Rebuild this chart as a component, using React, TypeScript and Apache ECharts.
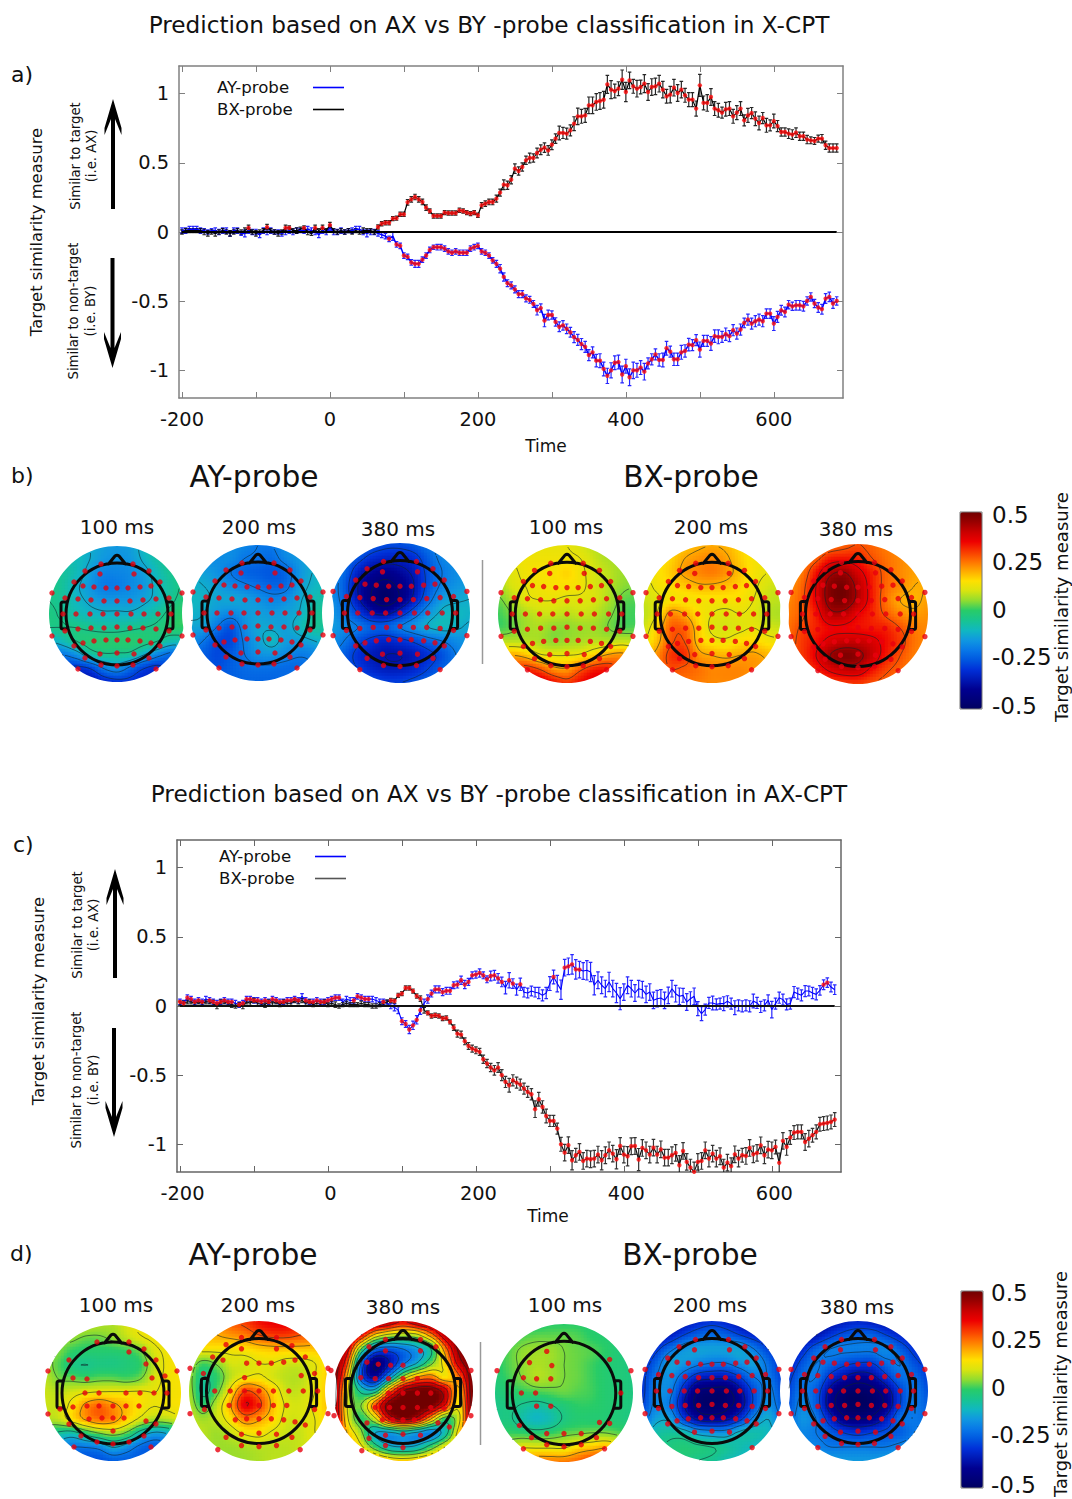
import React, { useEffect, useRef } from "react";
import * as echarts from "echarts";

const FONT = "DejaVu Sans";
const TIME_START = -200;
const TIME_STEP = 5;

// Panel a) means, one row per 50 ms from -200 ms
const aAy = [
  .01,.01,.02,.02,.02,.01,.01,.00,.01,.01,
  .00,.01,.01,-.01,.01,.01,-.01,-.01,.01,.00,
  .00,-.02,.01,.00,.01,.00,.00,-.01,.00,.01,
  .00,.01,.01,.01,.02,.01,.00,-.02,.01,.00,
  .03,.00,.00,.01,.00,.01,.01,.02,.02,.00,
  -.01,.00,.00,-.01,-.02,-.03,-.05,-.03,-.09,-.10,
  -.17,-.18,-.22,-.23,-.23,-.20,-.17,-.13,-.11,-.11,
  -.11,-.12,-.14,-.15,-.14,-.15,-.15,-.15,-.12,-.11,
  -.10,-.14,-.15,-.17,-.205,-.23,-.265,-.325,-.37,-.386,
  -.415,-.449,-.449,-.48,-.49,-.52,-.565,-.55,-.64,-.60,
  -.60,-.65,-.685,-.675,-.70,-.725,-.76,-.78,-.81,-.83,
  -.89,-.87,-.93,-.93,-.99,-1.04,-1.0,-.945,-.94,-1.03,
  -.97,-1.05,-1.0,-1.0,-.98,-1.01,-.95,-.92,-.885,-.925,
  -.925,-.84,-.865,-.92,-.92,-.87,-.86,-.814,-.818,-.782,
  -.85,-.787,-.787,-.806,-.753,-.758,-.758,-.739,-.753,-.71,
  -.734,-.705,-.657,-.633,-.662,-.645,-.633,-.645,-.59,-.59,
  -.662,-.614,-.566,-.578,-.525,-.537,-.53,-.53,-.537,-.498,
  -.469,-.517,-.546,-.558,-.481,-.469,-.517,-.498,
];
const aAyErr = [
  .02,.02,.02,.02,.02,.02,.015,.015,.015,.02,
  .02,.02,.02,.02,.02,.02,.015,.025,.02,.02,
  .02,.02,.02,.02,.02,.015,.015,.02,.02,.02,
  .02,.02,.015,.02,.02,.02,.02,.02,.02,.02,
  .02,.02,.02,.02,.015,.015,.02,.02,.02,.02,
  .025,.02,.02,.02,.02,.02,.02,.03,.02,.02,
  .02,.02,.02,.025,.025,.02,.02,.02,.015,.02,
  .02,.02,.02,.02,.02,.02,.02,.02,.02,.02,
  .02,.02,.02,.02,.02,.025,.03,.03,.025,.025,
  .025,.025,.025,.025,.025,.025,.035,.03,.045,.035,
  .03,.03,.035,.035,.035,.035,.04,.04,.04,.04,
  .04,.04,.045,.05,.05,.055,.055,.05,.05,.06,
  .05,.06,.06,.05,.05,.06,.04,.04,.04,.045,
  .05,.05,.04,.045,.045,.05,.045,.045,.04,.04,
  .055,.04,.04,.05,.045,.05,.04,.045,.04,.04,
  .04,.04,.035,.04,.04,.04,.04,.04,.035,.035,
  .05,.04,.035,.035,.03,.03,.035,.035,.035,.03,
  .03,.03,.035,.035,.035,.035,.035,.03,
];
const aBx = [
  .00,.01,.01,.01,.01,.01,.00,-.01,.00,-.01,
  .00,.01,.00,-.01,.00,.01,.00,.01,.03,.00,
  -.01,.00,.01,.035,.01,.00,-.01,.00,.03,.03,
  .01,.01,.02,.03,.00,-.01,.03,.01,.03,.01,
  .05,.01,.00,.01,.00,.01,.00,.01,.00,.01,
  .01,.01,.00,.036,.06,.067,.067,.097,.10,.128,
  .128,.215,.236,.253,.236,.217,.176,.152,.116,.116,
  .116,.14,.137,.137,.137,.157,.152,.14,.133,.14,
  .121,.193,.205,.217,.217,.241,.285,.342,.338,.378,
  .458,.441,.47,.518,.535,.535,.571,.595,.61,.59,
  .631,.675,.716,.716,.711,.735,.783,.836,.836,.843,
  .916,.916,.94,.947,.956,1.067,1.029,1.019,1.036,1.101,
  1.012,1.096,1.053,1.036,1.048,1.072,1.012,1.048,1.053,1.072,
  1.029,.981,.993,1.043,1.005,1.029,.988,.957,.957,.892,
  1.06,.933,.933,.976,.892,.88,.863,.887,.892,.836,
  .863,.892,.807,.843,.86,.819,.788,.824,.771,.771,
  .802,.766,.723,.723,.711,.704,.718,.692,.692,.668,
  .663,.658,.675,.675,.627,.607,.607,.607,
];
const aBxErr = [
  .015,.015,.015,.015,.015,.015,.02,.02,.015,.02,
  .015,.015,.015,.02,.015,.015,.015,.02,.02,.015,
  .02,.015,.015,.02,.015,.015,.02,.015,.02,.015,
  .015,.02,.015,.015,.02,.015,.02,.015,.02,.015,
  .02,.015,.015,.015,.015,.015,.015,.015,.015,.02,
  .015,.015,.015,.015,.015,.015,.015,.015,.015,.015,
  .015,.02,.02,.02,.02,.02,.02,.015,.015,.015,
  .015,.015,.015,.015,.015,.015,.015,.015,.015,.015,
  .015,.02,.02,.02,.02,.025,.025,.035,.03,.03,
  .035,.03,.03,.03,.035,.03,.035,.035,.035,.035,
  .035,.035,.05,.04,.04,.04,.05,.06,.05,.05,
  .06,.06,.06,.06,.06,.065,.065,.05,.05,.07,
  .07,.06,.05,.06,.05,.065,.06,.06,.06,.06,
  .06,.05,.06,.06,.06,.06,.05,.05,.05,.055,
  .08,.05,.06,.06,.05,.05,.04,.05,.05,.05,
  .05,.05,.04,.05,.04,.05,.05,.04,.05,.04,
  .05,.04,.03,.03,.035,.035,.035,.03,.03,.03,
  .025,.025,.025,.03,.03,.03,.03,.03,
];

// Panel c) means
const cAy = [
  .03,.02,.06,.05,.03,.04,.03,.05,.04,.03,
  .02,.03,.04,.03,.03,.02,.01,.02,.05,.05,
  .04,.04,.03,.04,.03,.05,.04,.03,.03,.04,
  .04,.05,.04,.07,.04,.03,.03,.04,.03,.03,
  .04,.05,.06,.06,.03,.05,.04,.04,.07,.06,
  .05,.05,.05,.04,.03,.03,.02,.00,-.01,-.03,
  -.11,-.13,-.17,-.14,-.10,-.03,.02,.05,.09,.12,
  .12,.10,.11,.11,.15,.155,.186,.155,.174,.222,
  .227,.239,.222,.193,.217,.222,.2,.174,.133,.186,
  .162,.118,.157,.10,.094,.108,.10,.094,.077,.094,
  .162,.21,.162,.118,.277,.287,.301,.265,.263,.253,
  .258,.246,.15,.186,.15,.126,.174,.126,.094,.053,
  .10,.15,.125,.094,.125,.118,.084,.101,.041,.053,
  .058,.041,.077,.125,.089,.07,.077,.029,.053,.07,
  -.019,-.055,-.026,.022,.022,.012,.017,.017,.034,.017,
  -.012,.005,-.002,.005,-.002,.036,.022,-.007,.005,.041,
  -.026,.017,.06,.046,.012,.017,.101,.089,.077,.108,
  .108,.094,.084,.113,.154,.169,.137,.118,
];
const cAyErr = [
  .02,.02,.02,.02,.02,.02,.02,.02,.02,.02,
  .02,.02,.02,.02,.02,.02,.02,.02,.02,.02,
  .02,.02,.02,.02,.02,.02,.02,.02,.02,.02,
  .02,.02,.02,.02,.02,.02,.02,.02,.02,.02,
  .02,.02,.02,.02,.02,.02,.02,.02,.02,.02,
  .02,.02,.02,.02,.02,.02,.02,.02,.025,.025,
  .025,.025,.03,.03,.03,.03,.03,.03,.025,.025,
  .025,.025,.025,.025,.025,.025,.03,.03,.025,.025,
  .025,.03,.025,.025,.035,.035,.035,.035,.045,.055,
  .035,.04,.045,.035,.035,.035,.035,.04,.04,.04,
  .05,.05,.06,.07,.06,.06,.07,.07,.06,.06,
  .07,.07,.07,.06,.06,.06,.07,.06,.07,.08,
  .06,.06,.06,.06,.06,.06,.06,.06,.06,.06,
  .06,.06,.06,.06,.06,.06,.05,.06,.05,.06,
  .05,.05,.04,.04,.05,.04,.04,.05,.04,.04,
  .05,.04,.04,.04,.04,.05,.04,.04,.04,.04,
  .06,.04,.04,.04,.04,.04,.04,.04,.04,.04,
  .035,.04,.04,.035,.035,.035,.035,.035,
];
const cBx = [
  .02,.02,.03,.03,.02,.03,.02,.03,.03,.02,
  .00,.03,.03,.02,.01,.00,.01,.00,.03,.02,
  .04,.02,.02,.01,.03,.02,.03,.01,.03,.02,
  .02,.04,.03,.04,.02,.03,.01,.02,.02,.03,
  .01,.02,.01,.00,.01,.02,.01,.01,.01,.02,
  .01,.01,.00,.00,.01,.02,.03,.04,.036,.077,
  .09,.13,.13,.108,.072,.053,-.031,-.05,-.072,-.067,
  -.072,-.09,-.087,-.115,-.156,-.2,-.207,-.255,-.289,-.308,
  -.32,-.332,-.385,-.416,-.445,-.465,-.445,-.50,-.549,-.573,
  -.537,-.554,-.568,-.597,-.621,-.638,-.746,-.674,-.73,-.795,
  -.831,-.831,-.886,-1.0,-1.06,-1.006,-1.115,-1.079,-1.055,-1.12,
  -1.103,-1.108,-1.103,-1.074,-1.115,-1.079,-1.043,-1.067,-1.108,-1.012,
  -1.074,-1.086,-1.014,-1.012,-1.11,-1.026,-1.043,-1.074,-1.024,-1.074,
  -1.036,-1.096,-1.096,-1.079,-1.062,-1.151,-1.048,-1.127,-1.168,-1.199,
  -1.127,-1.12,-1.043,-1.103,-1.067,-1.103,-1.086,-1.168,-1.132,-1.158,
  -1.072,-1.103,-1.079,-1.084,-1.026,-1.072,-1.062,-1.007,-1.079,-1.038,
  -1.043,-1.019,-1.134,-.975,-1.019,-.951,-.915,-.91,-.91,-.983,
  -.959,-.934,-.91,-.855,-.85,-.845,-.838,-.821,
];
const cBxErr = [
  .015,.015,.015,.015,.015,.015,.015,.015,.015,.02,
  .02,.015,.015,.015,.02,.015,.015,.02,.015,.015,
  .015,.015,.015,.02,.015,.015,.015,.015,.015,.015,
  .015,.015,.015,.015,.015,.015,.015,.015,.015,.015,
  .015,.015,.02,.015,.015,.015,.015,.015,.015,.015,
  .015,.015,.015,.015,.015,.015,.015,.015,.015,.015,
  .015,.015,.015,.015,.015,.02,.02,.015,.015,.015,
  .015,.015,.015,.015,.02,.025,.025,.025,.025,.025,
  .025,.025,.03,.03,.03,.035,.035,.04,.04,.05,
  .04,.04,.04,.04,.04,.04,.06,.05,.045,.05,
  .04,.04,.04,.05,.06,.06,.07,.05,.06,.06,
  .06,.06,.06,.06,.07,.06,.06,.06,.07,.06,
  .06,.07,.06,.06,.08,.06,.06,.06,.06,.06,
  .06,.06,.06,.06,.06,.07,.06,.06,.06,.07,
  .06,.06,.06,.06,.06,.06,.06,.06,.06,.06,
  .06,.06,.05,.06,.06,.06,.06,.06,.06,.06,
  .06,.05,.07,.06,.06,.05,.05,.05,.05,.06,
  .06,.05,.05,.05,.05,.05,.05,.05,
];

// Time ranges in which a sample carries the red significance dot
const aAySig = [[80, 80], [90, 685]];
const aBxSig = [[-110, -110], [-85, -85], [-60, -55], [-35, -35], [-20, -20], [-10, -10], [0, 0], [65, 685]];
const cAySig = [[-200, -170], [-160, -130], [-120, -90], [-85, -40], [-30, 5], [10, 15], [35, 55], [75, 75], [100, 125], [135, 235], [245, 250], [260, 260], [305, 305], [320, 340], [670, 675]];
const cBxSig = [[85, 125], [135, 685]];

const xTicks = [-200, -100, 0, 100, 200, 300, 400, 500, 600];
const xLabels = [-200, 0, 200, 400, 600];
const yTicks = [-1, -0.5, 0, 0.5, 1];

// Topographic maps, hundredths of the similarity measure, 11 x 11 samples
const mapB1 = [
  [-10,-10,-10,-12,-14,-15,-14,-10,-6,-5,-5],[-8,-8,-9,-12,-15,-16,-15,-11,-7,-4,-4],[-5,-6,-9,-14,-18,-18,-17,-14,-9,-5,-3],
  [-4,-6,-11,-15,-19,-19,-17,-15,-10,-6,-3],[-4,-6,-10,-13,-15,-15,-15,-13,-10,-5,-2],[-3,-5,-8,-10,-11,-11,-11,-9,-6,-2,0],
  [-4,-4,-4,-5,-6,-6,-5,-4,-3,-1,0],[-12,-9,-4,-2,-1,-1,-1,-2,-4,-8,-8],[-20,-20,-16,-8,-5,-5,-6,-12,-18,-22,-20],
  [-25,-28,-30,-28,-20,-16,-22,-28,-30,-25,-20],[-28,-30,-34,-36,-32,-30,-30,-32,-30,-25,-22],
];
const mapB2 = [
  [-20,-20,-18,-17,-18,-20,-20,-17,-15,-13,-12],[-18,-18,-17,-17,-20,-21,-22,-18,-15,-13,-12],[-13,-14,-16,-20,-23,-24,-25,-23,-16,-12,-10],
  [-11,-12,-14,-17,-19,-21,-23,-22,-15,-11,-9],[-10,-11,-13,-13,-14,-16,-18,-17,-13,-9,-7],[-11,-12,-15,-17,-15,-14,-15,-14,-12,-7,-5],
  [-13,-14,-20,-25,-17,-13,-13,-14,-10,-6,-6],[-16,-20,-26,-27,-19,-14,-10,-14,-14,-12,-10],[-20,-24,-27,-25,-20,-16,-15,-17,-19,-18,-14],
  [-22,-24,-26,-24,-22,-21,-21,-22,-22,-20,-16],[-24,-24,-24,-24,-23,-23,-23,-22,-20,-18,-15],
];
const mapB3 = [
  [-18,-20,-22,-24,-26,-26,-24,-20,-17,-15,-14],[-17,-20,-25,-30,-32,-32,-30,-24,-18,-16,-15],[-16,-22,-32,-38,-40,-38,-34,-26,-20,-17,-15],
  [-16,-24,-36,-43,-46,-42,-36,-26,-19,-16,-14],[-16,-23,-35,-44,-48,-43,-34,-23,-15,-13,-12],[-15,-20,-28,-36,-38,-32,-24,-16,-11,-10,-11],
  [-14,-17,-20,-24,-24,-20,-16,-12,-10,-11,-13],[-16,-20,-26,-30,-32,-30,-27,-23,-20,-17,-15],[-18,-24,-30,-34,-36,-36,-34,-30,-26,-20,-16],
  [-20,-24,-28,-32,-34,-34,-32,-28,-24,-20,-17],[-20,-22,-24,-26,-28,-28,-26,-23,-20,-18,-16],
];
const mapB4 = [
  [11,12,12,12,12,12,10,8,6,5,5],[11,12,13,13,13,13,12,9,7,6,5],[9,11,13,14,14,16,13,10,8,6,5],
  [6,10,12,13,14,14,13,10,8,5,4],[3,7,11,12,12,11,11,10,7,3,2],[1,4,7,9,9,8,9,8,5,2,1],
  [1,3,6,7,5,5,6,6,4,2,2],[8,8,8,7,5,6,7,8,8,9,8],[17,20,18,13,12,12,13,17,21,22,18],
  [22,28,31,28,22,21,27,32,32,26,20],[24,30,36,38,34,30,34,37,34,28,22],
];
const mapB5 = [
  [14,15,16,17,19,20,19,16,14,13,13],[13,14,16,20,22,23,21,17,14,13,12],[12,14,17,21,23,24,22,18,14,12,11],
  [10,13,15,17,19,19,18,16,13,10,9],[9,11,14,14,14,14,14,14,12,9,8],[8,12,22,20,15,12,11,12,11,8,7],
  [9,16,26,26,17,11,10,11,12,10,9],[12,18,27,28,18,14,13,15,16,14,13],[16,22,30,31,22,20,19,20,21,19,17],
  [20,24,28,27,25,23,23,23,22,21,20],[22,24,25,25,24,23,23,23,22,21,20],
];
const mapB6 = [
  [18,20,22,24,26,28,26,24,22,21,20],[20,22,26,32,33,32,28,25,23,21,20],[21,24,33,42,44,38,32,26,23,21,20],
  [22,26,36,47,49,42,33,26,23,20,20],[23,27,36,47,49,42,33,25,20,19,21],[24,27,33,42,42,36,32,27,23,21,22],
  [25,29,32,35,35,34,33,32,28,24,23],[26,30,34,38,40,40,38,34,30,25,23],[26,30,36,44,48,46,40,33,28,24,22],
  [25,28,32,37,40,40,34,29,26,23,21],[23,25,27,29,30,30,28,26,24,22,20],
];
const mapD1 = [
  [6,7,8,8,7,7,10,13,14,14,14],[5,6,5,3,3,5,8,11,13,14,14],[5,4,0,-1,-1,-1,0,3,10,13,14],
  [6,2,-3,-4,-3,-3,-2,0,8,13,14],[8,4,3,2,3,3,2,4,10,13,14],[9,8,10,12,13,13,13,13,12,13,14],
  [9,9,14,22,26,22,18,14,12,13,14],[7,8,14,20,24,22,16,10,6,7,10],[-2,-6,-8,-2,3,6,2,-8,-14,-12,-3],
  [-6,-16,-20,-20,-18,-12,-16,-22,-24,-20,-8],[-8,-18,-24,-26,-26,-24,-24,-24,-20,-12,-4],
];
const mapD2 = [
  [18,20,22,27,30,34,36,36,34,30,28],[16,18,20,22,24,28,30,30,28,26,24],[14,14,14,14,15,17,18,18,18,18,20],
  [8,2,5,10,10,12,12,10,10,12,17],[6,-4,0,8,12,13,10,8,8,12,17],[7,-6,2,14,28,24,16,9,9,12,18],
  [8,0,8,20,36,30,18,11,10,13,18],[9,6,9,15,24,21,16,10,10,12,17],[10,8,6,9,13,14,11,9,9,12,14],
  [9,7,6,6,7,8,8,8,9,11,12],[8,7,6,6,6,7,8,8,9,10,11],
];
const mapD3 = [
  [48,48,48,48,44,36,44,48,48,48,48],[50,48,36,18,10,8,10,24,42,50,50],[50,40,4,-20,-24,-20,-14,-4,24,46,50],
  [50,30,-20,-44,-36,-22,-12,2,16,40,50],[50,20,-24,-38,-18,6,20,24,14,26,50],[50,14,-6,-8,22,44,50,50,40,18,50],
  [50,12,4,26,48,52,52,50,36,14,48],[50,14,0,10,36,46,40,20,0,10,46],[46,20,6,-12,-14,-10,-14,-18,-8,16,40],
  [44,26,14,0,-10,-12,-10,0,12,22,36],[42,36,30,24,18,16,18,22,26,32,38],
];
const mapD4 = [
  [-2,-2,-1,-1,0,0,0,-1,-2,-3,-3],[-1,0,2,3,3,3,2,0,-1,-2,-3],[-1,2,5,6,6,4,3,2,0,-2,-3],
  [-1,2,5,7,6,4,3,1,-1,-2,-3],[-2,1,4,7,6,4,3,1,-1,-2,-3],[-3,-1,0,1,2,3,2,1,-1,-2,-3],
  [-4,-3,-5,-7,-5,-2,0,0,-1,-2,-3],[-4,-3,-7,-10,-8,-3,-1,-1,-1,-2,-3],[-1,1,1,0,1,3,4,5,5,3,0],
  [8,9,12,12,12,12,16,18,20,16,10],[12,16,20,24,24,24,26,30,26,20,12],
];
const mapD5 = [
  [-42,-42,-40,-36,-32,-30,-32,-36,-38,-38,-36],[-40,-38,-34,-28,-24,-22,-24,-28,-32,-34,-34],[-36,-30,-22,-16,-14,-14,-14,-14,-20,-28,-32],
  [-32,-24,-14,-15,-18,-20,-20,-16,-14,-22,-30],[-30,-20,-16,-24,-32,-34,-34,-28,-20,-20,-28],[-30,-18,-18,-32,-44,-46,-46,-38,-26,-18,-26],
  [-28,-18,-20,-36,-46,-48,-46,-40,-26,-16,-24],[-24,-14,-14,-28,-38,-40,-38,-30,-18,-12,-20],[-16,-8,-6,-8,-14,-16,-16,-10,-8,-10,-16],
  [-12,-6,-3,-2,-3,-4,-6,-8,-10,-12,-14],[-10,-6,-4,-3,-4,-5,-8,-10,-12,-13,-14],
];
const mapD6 = [
  [-44,-44,-42,-38,-34,-32,-34,-36,-38,-38,-36],[-42,-40,-36,-30,-26,-24,-24,-28,-32,-34,-34],[-38,-32,-24,-20,-19,-19,-19,-18,-24,-30,-32],
  [-34,-26,-20,-22,-26,-28,-28,-22,-20,-26,-30],[-30,-22,-20,-30,-36,-40,-38,-30,-22,-22,-28],[-28,-20,-24,-38,-46,-48,-46,-40,-28,-20,-26],
  [-26,-18,-24,-40,-48,-50,-48,-42,-28,-20,-24],[-24,-16,-20,-32,-42,-44,-42,-34,-22,-20,-22],[-22,-18,-20,-24,-28,-30,-28,-26,-24,-20,-18],
  [-18,-18,-18,-20,-20,-20,-20,-20,-18,-16,-14],[-14,-14,-15,-15,-15,-15,-15,-14,-13,-12,-12],
];

// Electrode sites shown on each map, offsets from the head centre
const sitesAll = [
  [-65,-21],[65,-21],[-65,22],[65,22],[-39,55],[39,55],[-16,-50],[16,-50],[-32,-43],[32,-43],[-17,-40],[17,-40],[-43,-32],[43,-32],
  [-34,-28],[34,-28],[-23,-27],[23,-27],[-11,-26],[11,-26],[0,-26],[-52,-16],[52,-16],[-39,-15],[39,-15],[-26,-14],[26,-14],[-13,-13],[13,-13],[0,-13],
  [-54,0],[54,0],[-41,0],[41,0],[-27,0],[27,0],[-14,0],[14,0],[0,0],[-39,15],[39,15],[-26,14],[26,14],[-13,14],[13,14],[0,13],
  [-52,17],[52,17],[-34,29],[34,29],[-23,27],[23,27],[-11,26],[11,26],[0,26],[-43,32],[43,32],[-17,40],[17,40],[0,39],[-32,44],[32,44],
  [-16,51],[16,51],[0,52],
];
const sitesD1 = [[-16,-51],[16,-51],[16,-41],[31,-44],[-44,-33],[43,-33],[33,-29],[-65,-22],[64,-22],[52,-17],[39,-15],[-40,-15],[-26,-14],[-28,0],[-14,0],[13,0],[27,0],[41,0],[54,0],[-40,14],[-26,13],[-14,13],[0,13],[13,13],[26,13],[-65,21],[-53,16],[-24,26],[-11,25],[0,25],[11,25],[-44,31],[43,31],[33,28],[0,38],[-32,43],[31,43],[-16,49],[0,51],[16,49],[-39,54],[38,54]];
const sitesD2 = [[-17,-52],[17,-52],[-32,-45],[32,-44],[-17,-41],[17,-41],[-45,-33],[45,-33],[-35,-30],[-12,-27],[0,-27],[12,-27],[24,-28],[35,-30],[-67,-22],[67,-22],[-54,-17],[41,-15],[-14,-13],[54,-17],[-28,0],[-43,0],[-14,0],[0,0],[14,0],[29,0],[43,0],[57,0],[-29,14],[-14,14],[0,14],[14,14],[27,14],[-53,18],[54,18],[-67,22],[67,22],[-23,28],[-12,27],[0,27],[12,27],[24,28],[35,30],[45,33],[-17,42],[0,41],[17,42],[-32,45],[32,45],[0,54],[-17,53],[17,53],[-40,57],[40,57]];
const sitesD3 = [[-17,-50],[17,-50],[-33,-43],[-17,-39],[17,-39],[32,-43],[-35,-28],[-24,-26],[-12,-25],[0,-25],[-70,-20],[66,-20],[-41,-13],[-27,-12],[-14,-12],[0,-12],[14,-12],[-14,2],[0,2],[14,2],[27,2],[-13,16],[0,16],[14,16],[27,16],[-27,16],[40,17],[-20,28],[-10,28],[0,28],[11,28],[-35,31],[34,31],[45,35],[-17,43],[0,42],[17,43],[-33,46],[-17,53],[0,55],[-40,58],[66,24],[-67,24]];
const sitesD4 = [[-17,-41],[-34,-30],[-12,-27],[45,-33],[-66,-22],[66,-22],[-40,-15],[-27,-14],[-13,-14],[-42,0],[-28,0],[56,0],[-27,13],[-13,13],[-44,32],[45,30],[35,29],[-32,44],[-17,40],[0,40],[17,40],[32,44],[-17,51],[0,53],[17,51],[-40,55],[40,55]];
const sitesD5 = sitesAll.filter((s) => !(s[1] >= 50 && s[0] <= 16) && !(s[1] === 44));

const mapTable = [
  { name: "b1", grid: mapB1, sites: sitesAll, cx: 117, cy: 614, r: 68, label: "100 ms", lx: 117, ly: 527 },
  { name: "b2", grid: mapB2, sites: sitesAll, cx: 258, cy: 613, r: 68, label: "200 ms", lx: 259, ly: 527 },
  { name: "b3", grid: mapB3, sites: sitesAll, cx: 400, cy: 613, r: 70, label: "380 ms", lx: 398, ly: 529 },
  { name: "b4", grid: mapB4, sites: sitesAll, cx: 567, cy: 614, r: 69, label: "100 ms", lx: 566, ly: 527 },
  { name: "b5", grid: mapB5, sites: sitesAll, cx: 712, cy: 614, r: 69, label: "200 ms", lx: 711, ly: 527 },
  { name: "b6", grid: mapB6, sites: sitesAll, cx: 858, cy: 614, r: 70, label: "380 ms", lx: 856, ly: 529 },
  { name: "d1", grid: mapD1, sites: sitesD1, cx: 113, cy: 1393, r: 68, label: "100 ms", lx: 116, ly: 1305 },
  { name: "d2", grid: mapD2, sites: sitesD2, cx: 259, cy: 1391, r: 70, label: "200 ms", lx: 258, ly: 1305 },
  { name: "d3", grid: mapD3, sites: sitesD3, cx: 403, cy: 1391, r: 70, label: "380 ms", lx: 403, ly: 1307 },
  { name: "d4", grid: mapD4, sites: sitesD4, cx: 564, cy: 1393, r: 69, label: "100 ms", lx: 565, ly: 1305 },
  { name: "d5", grid: mapD5, sites: sitesD5, cx: 712, cy: 1391, r: 70, label: "200 ms", lx: 710, ly: 1305 },
  { name: "d6", grid: mapD6, sites: sitesAll, cx: 858, cy: 1391, r: 70, label: "380 ms", lx: 857, ly: 1307 },
];

const jet = ["#000060","#00007a","#000090","#0018b4","#0030d8","#0058e0","#0878e8","#1098e0","#10b8c0","#18c490","#28cc68","#90dc30","#d8e410","#ffe000","#ffaa00","#ff7000","#f83800","#ee0000","#c80000","#980000","#700000"];
const contourLevels = [-0.44, -0.36, -0.28, -0.2, -0.12, -0.04, 0.04, 0.12, 0.2, 0.28, 0.36, 0.44];
const colorbarTicks = ["0.5", "0.25", "0", "-0.25", "-0.5"];

const CELL = 3;

function catmull(p0: number, p1: number, p2: number, p3: number, t: number) {
  return 0.5 * (2 * p1 + (p2 - p0) * t + (2 * p0 - 5 * p1 + 4 * p2 - p3) * t * t + (3 * p1 - p0 - 3 * p2 + p3) * t * t * t);
}
function sample(m: number[][], u: number, v: number) {
  const N = m.length - 1;
  const cl = (i: number) => Math.max(0, Math.min(N, i));
  const iu = Math.max(0, Math.min(N - 1, Math.floor(u)));
  const iv = Math.max(0, Math.min(N - 1, Math.floor(v)));
  const tu = u - iu, tv = v - iv;
  const col: number[] = [];
  for (let j = -1; j <= 2; j++) {
    const row = m[cl(iv + j)];
    col.push(catmull(row[cl(iu - 1)], row[cl(iu)], row[cl(iu + 1)], row[cl(iu + 2)], tu));
  }
  const val = catmull(col[0], col[1], col[2], col[3], tv) / 100;
  return Math.max(-0.5, Math.min(0.5, val));
}

function contourPath(f: number[][], x0: number, y0: number, inside: (x: number, y: number) => boolean) {
  let d = "";
  const n = f.length;
  for (const lv of contourLevels) {
    for (let j = 0; j < n - 1; j++) {
      for (let i = 0; i < n - 1; i++) {
        const px = x0 + i * CELL, py = y0 + j * CELL;
        if (!inside(px + CELL / 2, py + CELL / 2)) continue;
        const a = f[j][i], b = f[j][i + 1], c = f[j + 1][i + 1], e = f[j + 1][i];
        const pts: number[][] = [];
        if ((a < lv) !== (b < lv)) pts.push([px + (CELL * (lv - a)) / (b - a), py]);
        if ((b < lv) !== (c < lv)) pts.push([px + CELL, py + (CELL * (lv - b)) / (c - b)]);
        if ((e < lv) !== (c < lv)) pts.push([px + (CELL * (lv - e)) / (c - e), py + CELL]);
        if ((a < lv) !== (e < lv)) pts.push([px, py + (CELL * (lv - a)) / (e - a)]);
        if (pts.length >= 2) {
          d += `M${pts[0][0].toFixed(1)} ${pts[0][1].toFixed(1)}L${pts[1][0].toFixed(1)} ${pts[1][1].toFixed(1)}`;
          if (pts.length === 4) d += `M${pts[2][0].toFixed(1)} ${pts[2][1].toFixed(1)}L${pts[3][0].toFixed(1)} ${pts[3][1].toFixed(1)}`;
        }
      }
    }
  }
  return d;
}

function headPath(cx: number, cy: number, r: number) {
  const s = r / 68;
  const R = 51 * s;
  const p = (x: number, y: number) => `${(cx + x * s).toFixed(1)} ${(cy + y * s).toFixed(1)}`;
  return (
    `M${cx - R} ${cy}A${R} ${R} 0 1 1 ${cx + R} ${cy}A${R} ${R} 0 1 1 ${cx - R} ${cy}` +
    `M${p(-8.5, -50)}L${p(-2, -58)}Q${p(0, -59.5)} ${p(2, -58)}L${p(8.5, -50)}` +
    `M${p(-51, -12)}L${p(-54, -12)}Q${p(-56, -12)} ${p(-56, -10)}L${p(-56, 13)}Q${p(-56, 15)} ${p(-54, 15)}L${p(-51, 15)}` +
    `M${p(51, -12)}L${p(54, -12)}Q${p(56, -12)} ${p(56, -10)}L${p(56, 13)}Q${p(56, 15)} ${p(54, 15)}L${p(51, 15)}`
  );
}

const times = aAy.map((_, i) => TIME_START + i * TIME_STEP);
const inSig = (t: number, ranges: number[][]) => ranges.some(([a, b]) => t >= a && t <= b);

function errorRender(color: string, w: number) {
  return (_p: any, api: any) => {
    const t = api.value(0), m = api.value(1), e = api.value(2);
    const a = api.coord([t, m + e]), b = api.coord([t, m - e]);
    const c = 1.8;
    return {
      type: "path",
      shape: { pathData: `M${a[0]} ${a[1]}L${b[0]} ${b[1]}M${a[0] - c} ${a[1]}L${a[0] + c} ${a[1]}M${b[0] - c} ${b[1]}L${b[0] + c} ${b[1]}` },
      style: { fill: "none", stroke: color, lineWidth: w, opacity: 0.85 },
    };
  };
}

function panelSeries(axis: number, name: string, color: string, vals: number[], errs: number[], lineW: number) {
  return [
    {
      type: "custom", name: name + " error", xAxisIndex: axis, yAxisIndex: axis, z: 2, clip: true, silent: true,
      encode: { x: 0, y: 1 },
      data: vals.map((v, i) => [times[i], v, errs[i]]),
      renderItem: errorRender(color, 1.2),
    },
    {
      type: "line", name, xAxisIndex: axis, yAxisIndex: axis, z: 3, showSymbol: false, silent: true,
      lineStyle: { color, width: lineW }, itemStyle: { color },
      data: vals.map((v, i) => [times[i], v]),
    },
  ];
}
function sigSeries(axis: number, vals: number[], sig: number[][]) {
  return {
    type: "scatter", xAxisIndex: axis, yAxisIndex: axis, z: 6, silent: true, symbolSize: 4.4,
    itemStyle: { color: "#ff0a0a" },
    data: vals.map((v, i) => [times[i], v]).filter((p) => inSig(p[0], sig)),
  };
}

function txt(text: string, x: number, y: number, fontSize: number, opt: any = {}) {
  return {
    type: "text", x, y, rotation: opt.rot ? Math.PI / 2 : 0, silent: true, z: 20,
    style: { text, fontSize, fontFamily: FONT, fill: "#111", align: opt.align || "center", verticalAlign: "middle" },
  };
}
function arrow(x: number, y0: number, y1: number) {
  const dir = y1 < y0 ? 1 : -1; // tip at y1
  const P = (dx: number, dy: number) => [x + dx, y1 + dir * dy];
  return {
    type: "polygon", silent: true, z: 20,
    shape: { points: [P(0, 0), P(8.5, 29), P(8.5, 36), P(2, 20), [x + 2, y0], [x - 2, y0], P(-2, 20), P(-8.5, 36), P(-8.5, 29)] },
    style: { fill: "#000" },
  };
}

function option() {
  const grids: any[] = [];
  const xAxes: any[] = [];
  const yAxes: any[] = [];
  const series: any[] = [];

  // Heatmaps come first so their indices can be listed in the visual maps.
  mapTable.forEach((m, k) => {
    const n = Math.ceil((2 * m.r) / CELL) + 3;
    const x0 = Math.round(m.cx - (n * CELL) / 2);
    const y0 = Math.round(m.cy - (n * CELL) / 2);
    const cats = Array.from({ length: n }, (_, i) => String(i));
    grids.push({ left: x0, top: y0, width: n * CELL, height: n * CELL });
    xAxes.push({ type: "category", gridIndex: k, data: cats, show: false });
    yAxes.push({ type: "category", gridIndex: k, data: cats, show: false, inverse: true });
    const data: number[][] = [];
    for (let j = 0; j < n; j++) {
      for (let i = 0; i < n; i++) {
        const px = x0 + (i + 0.5) * CELL - m.cx, py = y0 + (j + 0.5) * CELL - m.cy;
        if (px * px + py * py > (m.r + 4) * (m.r + 4)) continue;
        data.push([i, j, sample(m.grid, ((px / m.r + 1) * 10) / 2, ((py / m.r + 1) * 10) / 2)]);
      }
    }
    series.push({ type: "heatmap", name: "map " + m.name, xAxisIndex: k, yAxisIndex: k, data, z: 1, silent: true, progressive: 0, emphasis: { disabled: true } });
  });

  // Panels a) and c)
  const frame = (axisIdx: number, left: number, top: number, w: number, h: number, col: string, labelPad: number) => {
    grids.push({ left, top, width: w, height: h });
    const lineOpt = { show: true, onZero: false, lineStyle: { color: col, width: 1.5 } };
    const tick = { show: true, inside: true, length: 6, lineStyle: { color: col, width: 1 } };
    const common = { type: "value", gridIndex: axisIdx, splitLine: { show: false }, axisLine: lineOpt };
    xAxes.push({ ...common, min: -204, max: 693.5, position: "bottom", axisTick: { ...tick, customValues: xTicks },
      axisLabel: { customValues: xLabels, fontSize: 19.4, fontFamily: FONT, color: "#111", margin: 12, padding: [0, 0, 0, labelPad] } });
    yAxes.push({ ...common, min: -1.2, max: 1.2, position: "left", axisTick: { ...tick, customValues: yTicks },
      axisLabel: { customValues: yTicks, fontSize: 19.4, fontFamily: FONT, color: "#111", margin: 10 } });
    xAxes.push({ ...common, gridIndex: axisIdx, min: -204, max: 693.5, position: "top", axisTick: { ...tick, customValues: xTicks }, axisLabel: { show: false } });
    yAxes.push({ ...common, gridIndex: axisIdx, min: -1.2, max: 1.2, position: "right", axisTick: { ...tick, customValues: yTicks }, axisLabel: { show: false } });
  };
  const gA = mapTable.length;
  frame(gA, 179, 66, 664, 332, "#808080", 0);
  const axA = gA; // x,y index; mirrors sit at axA + 1
  const gC = gA + 1;
  frame(gC, 177, 840, 664, 332, "#666666", 5);
  const axC = gA + 2;

  series.push(...panelSeries(axA, "AY-probe", "#0000ff", aAy, aAyErr, 1.5));
  series.push(...panelSeries(axA, "BX-probe", "#000000", aBx, aBxErr, 1.2));
  series.push({ type: "line", name: "zero a", xAxisIndex: axA, yAxisIndex: axA, z: 5, showSymbol: false, silent: true, lineStyle: { color: "#000", width: 2 }, data: [[-200, 0], [685, 0]] });
  series.push(sigSeries(axA, aAy, aAySig), sigSeries(axA, aBx, aBxSig));
  series.push(...panelSeries(axC, "AY-probe", "#0000ff", cAy, cAyErr, 1.1));
  series.push(...panelSeries(axC, "BX-probe", "#111111", cBx, cBxErr, 1.2));
  series.push({ type: "line", name: "zero c", xAxisIndex: axC, yAxisIndex: axC, z: 5, showSymbol: false, silent: true, lineStyle: { color: "#111", width: 2 }, data: [[-200, 0], [685, 0]] });
  series.push(sigSeries(axC, cAy, cAySig), sigSeries(axC, cBx, cBxSig));

  // Full page overlay for everything drawn on the head maps.
  const gO = gC + 1;
  const axO = xAxes.length;
  grids.push({ left: 0, top: 0, width: 1072, height: 1499 });
  xAxes.push({ type: "value", gridIndex: gO, min: 0, max: 1072, show: false });
  yAxes.push({ type: "value", gridIndex: gO, min: 0, max: 1499, inverse: true, show: false });

  mapTable.forEach((m) => {
    const n = Math.ceil((2 * m.r) / CELL) + 3;
    const x0 = Math.round(m.cx - (n * CELL) / 2);
    const y0 = Math.round(m.cy - (n * CELL) / 2);
    const f: number[][] = [];
    for (let j = 0; j <= n; j++) {
      const row: number[] = [];
      for (let i = 0; i <= n; i++) {
        row.push(sample(m.grid, (((x0 + i * CELL - m.cx) / m.r + 1) * 10) / 2, (((y0 + j * CELL - m.cy) / m.r + 1) * 10) / 2));
      }
      f.push(row);
    }
    const inside = (x: number, y: number) => (x - m.cx) ** 2 + (y - m.cy) ** 2 < (m.r - 1) ** 2;
    const cPath = contourPath(f, x0, y0, inside);
    const hPath = headPath(m.cx, m.cy, m.r);
    series.push({
      type: "custom", name: "mask " + m.name, xAxisIndex: axO, yAxisIndex: axO, z: 7, silent: true,
      data: [[m.cx, m.cy]], encode: { x: 0, y: 1 },
      renderItem: (_p: any, api: any) => {
        const c = api.coord([api.value(0), api.value(1)]);
        return {
          type: "group",
          children: [
            { type: "ring", shape: { cx: c[0], cy: c[1], r: m.r + 8, r0: m.r }, style: { fill: "#fff" } },
            { type: "path", shape: { pathData: cPath }, style: { fill: "none", stroke: "rgba(15,35,40,0.7)", lineWidth: 0.8 } },
            { type: "path", shape: { pathData: hPath }, style: { fill: "none", stroke: "#0a0a0a", lineWidth: 3, lineJoin: "round", lineCap: "round" } },
          ],
        };
      },
    });
    const s = m.r / 68;
    series.push({
      type: "scatter", name: "sites " + m.name, xAxisIndex: axO, yAxisIndex: axO, z: 8, silent: true, symbolSize: 5.4,
      itemStyle: { color: "#e8000e" },
      data: m.sites.map((p) => [m.cx + p[0] * s, m.cy + p[1] * s]),
    });
  });

  const heatB = [0, 1, 2, 3, 4, 5];
  const heatD = [6, 7, 8, 9, 10, 11];
  const vm = (idx: number[], left: number, top: number) => ({
    type: "continuous", seriesIndex: idx, dimension: 2, min: -0.5, max: 0.5, left, top, itemWidth: 22, itemHeight: 197, padding: 0,
    calculable: false, hoverLink: false, inRange: { color: jet },
  });

  const legendOf = (left: number, top: number, bxCol: string) => ({
    left, top, orient: "vertical", align: "right", itemWidth: 31, itemHeight: 1.6, itemGap: 5, selectedMode: false, padding: 0,
    formatter: "{a|{name}}",
    textStyle: { rich: { a: { width: 91, align: "left", fontSize: 16.6, fontFamily: FONT, color: "#111", height: 15 } } },
    data: [
      { name: "AY-probe", icon: "rect", itemStyle: { color: "#0000ff" } },
      { name: "BX-probe", icon: "rect", itemStyle: { color: bxCol } },
    ],
  });

  const g: any[] = [
    txt("Prediction based on AX vs BY -probe classification in X-CPT", 489, 24, 23.2),
    txt("Prediction based on AX vs BY -probe classification in AX-CPT", 499, 793, 23.2),
    txt("a)", 11, 74, 22, { align: "left" }),
    txt("b)", 11, 475, 22, { align: "left" }),
    txt("c)", 13, 844, 22, { align: "left" }),
    txt("d)", 10, 1253, 22, { align: "left" }),
    txt("Time", 546, 446, 17),
    txt("Time", 548, 1216, 17),
    txt("Target similarity measure", 36, 232, 16.4, { rot: true }),
    txt("Similar to target", 75, 156, 13.2, { rot: true }),
    txt("(i.e. AX)", 91, 156, 13.2, { rot: true }),
    txt("Similar to non-target", 73, 311, 13.2, { rot: true }),
    txt("(i.e. BY)", 90, 311, 13.2, { rot: true }),
    txt("Target similarity measure", 38, 1001, 16.4, { rot: true }),
    txt("Similar to target", 77, 925, 13.2, { rot: true }),
    txt("(i.e. AX)", 93, 925, 13.2, { rot: true }),
    txt("Similar to non-target", 76, 1080, 13.2, { rot: true }),
    txt("(i.e. BY)", 93, 1080, 13.2, { rot: true }),
    arrow(113, 209, 99), arrow(112.5, 258, 368), arrow(115, 978, 869), arrow(114, 1028, 1137),
    txt("AY-probe", 254, 476, 29.7), txt("BX-probe", 691, 476, 29.7),
    txt("AY-probe", 253, 1254, 29.7), txt("BX-probe", 690, 1254, 29.7),
    { type: "line", z: 20, silent: true, shape: { x1: 482.5, y1: 560, x2: 482.5, y2: 664 }, style: { stroke: "#999", lineWidth: 1.5 } },
    { type: "line", z: 20, silent: true, shape: { x1: 480.5, y1: 1342, x2: 480.5, y2: 1445 }, style: { stroke: "#999", lineWidth: 1.5 } },
    { type: "rect", z: 20, silent: true, shape: { x: 960, y: 512, width: 22, height: 197 }, style: { fill: "none", stroke: "#777", lineWidth: 1 } },
    { type: "rect", z: 20, silent: true, shape: { x: 961, y: 1291, width: 22, height: 197 }, style: { fill: "none", stroke: "#777", lineWidth: 1 } },
    txt("Target similarity measure", 1061, 607, 18.1, { rot: true }),
    txt("Target similarity measure", 1060, 1384, 17.8, { rot: true }),
  ];
  [515, 562, 610, 657, 706].forEach((y, i) => g.push(txt(colorbarTicks[i], 992, y, 23, { align: "left" })));
  [1293, 1340, 1388, 1435, 1485].forEach((y, i) => g.push(txt(colorbarTicks[i], 991, y, 23, { align: "left" })));
  mapTable.forEach((m) => g.push(txt(m.label, m.lx, m.ly, 20)));

  return {
    animation: false,
    backgroundColor: "#ffffff",
    grid: grids,
    xAxis: xAxes,
    yAxis: yAxes,
    visualMap: [vm(heatB, 960, 512), vm(heatD, 961, 1291)],
    legend: [legendOf(217, 79, "#000000"), legendOf(219, 848, "#555555")],
    graphic: { elements: g },
    series,
  };
}

export default function App() {
  const ref = useRef<HTMLDivElement>(null);
  useEffect(() => {
    document.body.style.margin = "0";
    const chart = echarts.init(ref.current as HTMLDivElement, undefined, { renderer: "svg" });
    chart.setOption(option() as any);
    return () => chart.dispose();
  }, []);
  return <div ref={ref} style={{ position: "absolute", left: 0, top: 0, width: 1072, height: 1499, background: "#fff" }} />;
}
